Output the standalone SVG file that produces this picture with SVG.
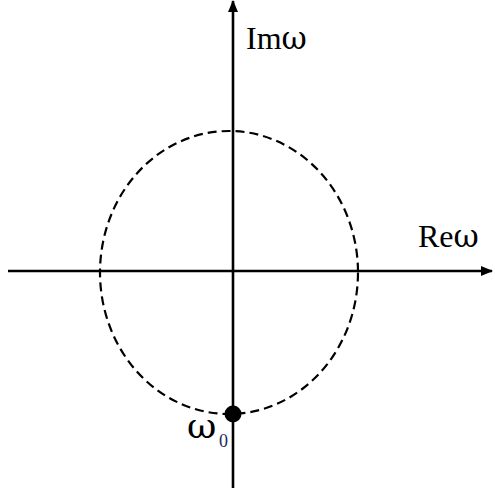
<svg xmlns="http://www.w3.org/2000/svg" width="495" height="493" viewBox="0 0 495 493">
<style>
.axis{stroke:#000;stroke-width:2.6;fill:none}
.circ{stroke:#000;stroke-width:2.2;fill:none;stroke-dasharray:9 5}
.lbl{font-family:"Liberation Serif","Times New Roman",serif;fill:#000;font-size:32px}
.w{font-family:"DejaVu Serif",serif;font-size:31px}
</style>
<defs>
<marker id="arr" viewBox="0 0 12 10" refX="11" refY="5" markerWidth="12" markerHeight="10" markerUnits="userSpaceOnUse" orient="auto">
<path d="M0,0 L12,5 L0,10 Z" fill="#000"/>
</marker>
</defs>
<g id="connectors">
<line class="axis" x1="8" y1="271" x2="492" y2="271" marker-end="url(#arr)"/>
<line class="axis" x1="233" y1="488" x2="233" y2="1" marker-end="url(#arr)"/>
</g>
<g id="circle">
<ellipse class="circ" cx="229" cy="272.5" rx="129" ry="141.5"/>
</g>
<g id="point">
<circle cx="233" cy="414" r="8.5" fill="#000"/>
</g>
<g id="labels">
<text class="lbl" x="246" y="49">Im<tspan class="w">ω</tspan></text>
<text class="lbl" x="418" y="247">Re<tspan class="w">ω</tspan></text>
<text class="lbl" x="187" y="438"><tspan class="w" style="font-size:36px">ω</tspan></text>
<text class="lbl" x="219" y="447" style="font-size:18px;fill:#1a2a5a">0</text>
</g>
</svg>
